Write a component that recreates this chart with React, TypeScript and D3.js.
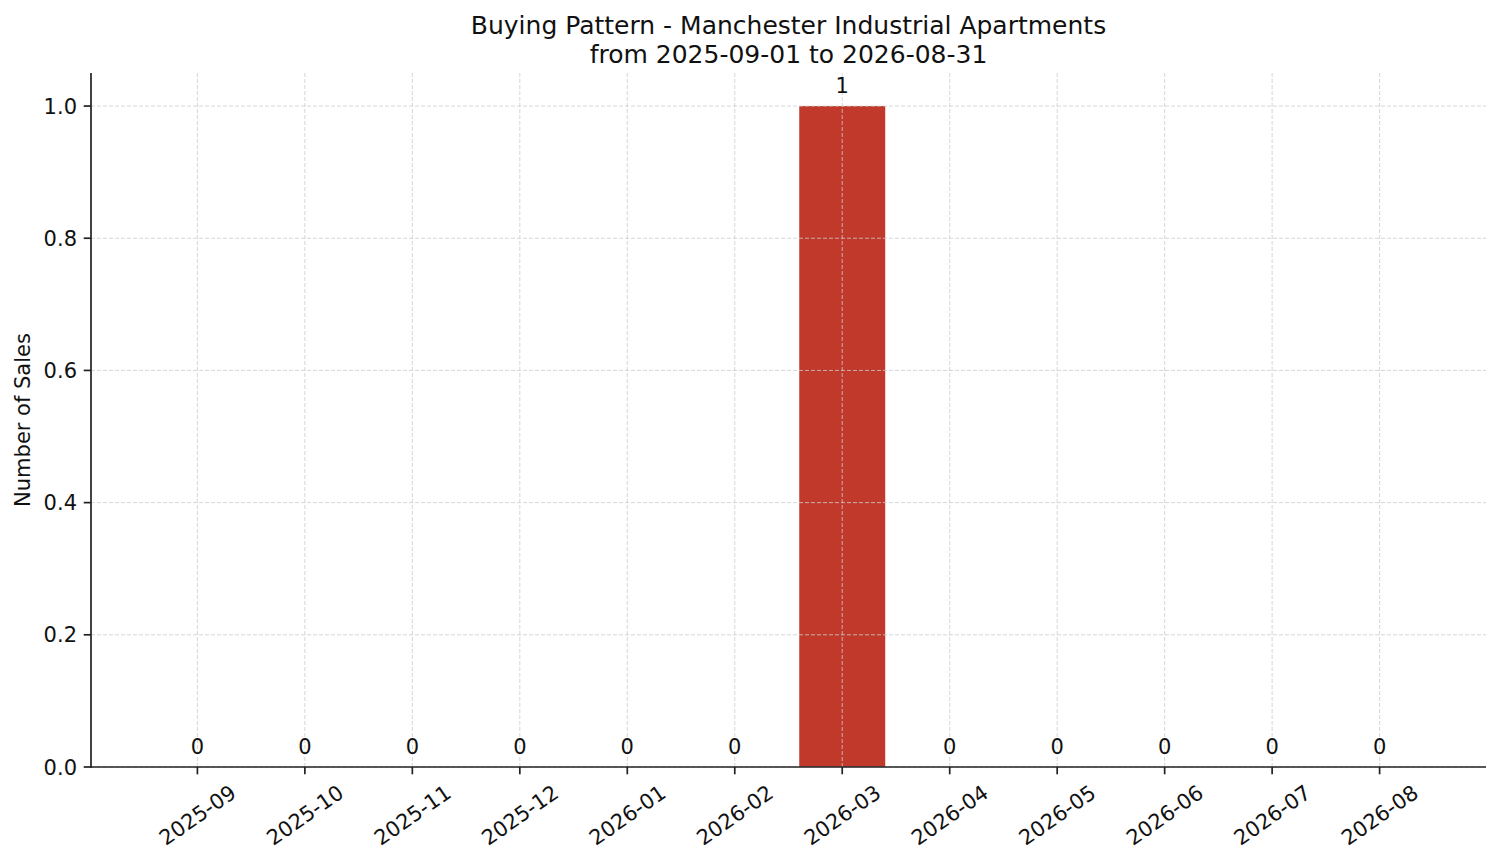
import React, { useEffect, useRef } from 'react';
import * as d3 from 'd3';

const months = [
  '2025-09', '2025-10', '2025-11', '2025-12', '2026-01', '2026-02',
  '2026-03', '2026-04', '2026-05', '2026-06', '2026-07', '2026-08',
];
const sales = [0, 0, 0, 0, 0, 0, 1, 0, 0, 0, 0, 0];
const yTicks = [0, 0.2, 0.4, 0.6, 0.8, 1.0];

const titleLines = [
  'Buying Pattern - Manchester Industrial Apartments',
  'from 2025-09-01 to 2026-08-31',
];

const W = 1501;
const H = 863;
const FONT = 'DejaVu Sans, sans-serif';

const App: React.FC = () => {
  const svgRef = useRef<SVGSVGElement>(null);

  useEffect(() => {
    if (!svgRef.current) return;
    const svg = d3.select(svgRef.current);
    svg.selectAll('*').remove();

    const left = 91;
    const right = 1486;
    const top = 73;
    const bottom = 767;

    // matplotlib-like limits: bars at integer positions, 5% margins
    const x = d3.scaleLinear().domain([-0.99, 11.99]).range([left, right]);
    const y = d3.scaleLinear().domain([0, 1.05]).range([bottom, top]);
    const barW = x(0.8) - x(0);

    svg.append('rect').attr('width', W).attr('height', H).attr('fill', '#fff');

    // bars
    svg.append('g')
      .selectAll('rect')
      .data(sales)
      .join('rect')
      .attr('x', (_, i) => x(i) - barW / 2)
      .attr('y', (d) => y(d))
      .attr('width', barW)
      .attr('height', (d) => y(0) - y(d))
      .attr('fill', '#c0392b');

    // grid (drawn above bars)
    const grid = svg.append('g')
      .attr('stroke', '#cccccc')
      .attr('stroke-width', 0.8)
      .attr('stroke-dasharray', '4,2');
    grid.selectAll('line.gx')
      .data(months)
      .join('line')
      .attr('class', 'gx')
      .attr('x1', (_, i) => x(i))
      .attr('x2', (_, i) => x(i))
      .attr('y1', top)
      .attr('y2', bottom);
    grid.selectAll('line.gy')
      .data(yTicks)
      .join('line')
      .attr('class', 'gy')
      .attr('x1', left)
      .attr('x2', right)
      .attr('y1', (d) => y(d))
      .attr('y2', (d) => y(d));

    // bar labels
    svg.append('g')
      .selectAll('text')
      .data(sales)
      .join('text')
      .attr('x', (_, i) => x(i))
      .attr('y', (d) => y(d) - 13)
      .attr('text-anchor', 'middle')
      .attr('font-family', FONT)
      .attr('font-size', 21)
      .attr('fill', '#111')
      .text((d) => d3.format('d')(d));

    // spines
    const axisColor = '#222';
    svg.append('line')
      .attr('x1', left).attr('x2', left).attr('y1', top).attr('y2', bottom + 0.8)
      .attr('stroke', axisColor).attr('stroke-width', 1.7);
    svg.append('line')
      .attr('x1', left - 0.8).attr('x2', right).attr('y1', bottom).attr('y2', bottom)
      .attr('stroke', axisColor).attr('stroke-width', 1.7);

    // y ticks
    const yg = svg.append('g');
    yTicks.forEach((t) => {
      yg.append('line')
        .attr('x1', left - 7.3).attr('x2', left)
        .attr('y1', y(t)).attr('y2', y(t))
        .attr('stroke', axisColor).attr('stroke-width', 1.7);
      yg.append('text')
        .attr('x', left - 14)
        .attr('y', y(t))
        .attr('dy', '0.36em')
        .attr('text-anchor', 'end')
        .attr('font-family', FONT)
        .attr('font-size', 21)
        .attr('fill', '#111')
        .text(d3.format('.1f')(t));
    });

    // x ticks
    const xg = svg.append('g');
    months.forEach((m, i) => {
      xg.append('line')
        .attr('x1', x(i)).attr('x2', x(i))
        .attr('y1', bottom).attr('y2', bottom + 7.3)
        .attr('stroke', axisColor).attr('stroke-width', 1.7);
      xg.append('text')
        .attr('transform', `translate(${x(i)},${bottom + 48}) rotate(-35)`)
        .attr('text-anchor', 'middle')
        .attr('dy', '0.36em')
        .attr('font-family', FONT)
        .attr('font-size', 21)
        .attr('fill', '#111')
        .text(m);
    });

    // y label
    svg.append('text')
      .attr('transform', `translate(30,${(top + bottom) / 2}) rotate(-90)`)
      .attr('text-anchor', 'middle')
      .attr('font-family', FONT)
      .attr('font-size', 21)
      .attr('fill', '#111')
      .text('Number of Sales');

    // title
    svg.append('g')
      .selectAll('text')
      .data(titleLines)
      .join('text')
      .attr('x', (left + right) / 2)
      .attr('y', (_, i) => 34 + i * 29)
      .attr('text-anchor', 'middle')
      .attr('font-family', FONT)
      .attr('font-size', 25)
      .attr('fill', '#111')
      .text((d) => d);
  }, []);

  return (
    <svg
      ref={svgRef}
      width={W}
      height={H}
      style={{ position: 'absolute', left: 0, top: 0 }}
    />
  );
};

export default App;
